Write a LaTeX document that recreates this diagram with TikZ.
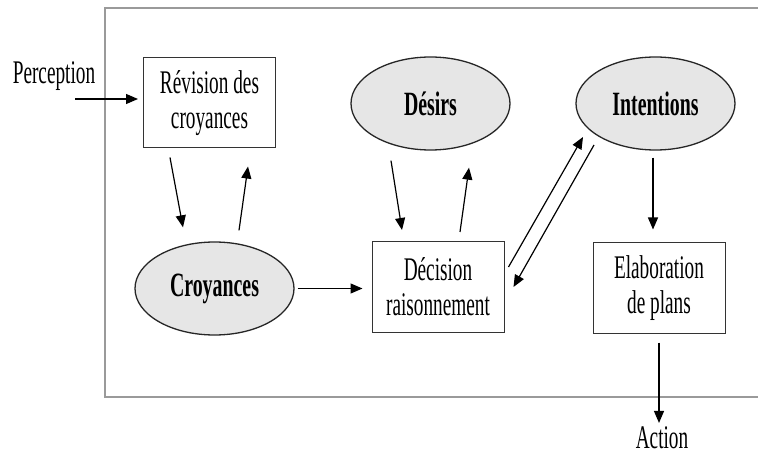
\documentclass[tikz,border=0pt]{standalone}
\usepackage{fontspec}
\setmainfont{Liberation Serif}[FakeStretch=0.584]
\usetikzlibrary{shapes.geometric,arrows.meta,calc}
\definecolor{framegray}{HTML}{9A9A9A}
\definecolor{ellfill}{HTML}{E6E6E6}
\definecolor{boxline}{HTML}{333333}
\tikzset{
  boxnode/.style={draw=boxline,line width=1pt,rectangle,minimum width=132pt,minimum height=90pt,align=center,inner sep=0pt,font=\fontsize{33}{35}\selectfont},
  ellnode/.style={draw=black!85,line width=1.3pt,ellipse,fill=ellfill,minimum width=159pt,minimum height=93pt,inner sep=0pt,font=\fontsize{34}{36}\selectfont\bfseries},
  plain/.style={inner sep=0pt,text depth=0pt,font=\fontsize{33}{35}\selectfont},
  arr/.style={line width=1.2pt,-{Triangle[length=12pt,width=10pt]}},
}
\begin{document}
\begin{tikzpicture}[x=1pt,y=-1pt]
\useasboundingbox (0,0) rectangle (758,457);
% frame
\draw[framegray,line width=1.8pt] (760,8) -- (105,8) -- (105,397) -- (760,397);
% nodes
\node[boxnode] (rev) at (209.5,103) {Révision des\\croyances};
\node[boxnode] (dec) at (438,287) {Décision\\raisonnement};
\node[boxnode] (elab) at (659,288) {Elaboration\\de plans};
\node[ellnode] (cro) at (214.5,288.5) {Croyances};
\node[ellnode] (des) at (430.5,103.5) {Désirs};
\node[ellnode] (int) at (655.5,103.5) {Intentions};
\node[plain,anchor=base] (perc) at (54,83.5) {Perception};
\node[plain,anchor=base] (act) at (662,448) {Action};
\coordinate (pin) at (75,99);
% connectors
\draw[arr] (pin) -- ([xshift=-5pt,yshift=4pt]rev.west);
\draw[arr] ([xshift=-39.5pt,yshift=-9pt]rev.south) -- ([xshift=-31.5pt,yshift=14pt]cro.north);
\draw[arr] ([xshift=24.5pt,yshift=11pt]cro.north) -- ([xshift=38.5pt,yshift=-18pt]rev.south);
\draw[arr] ([xshift=3pt]cro.east) -- ([xshift=-9pt,yshift=-1.5pt]dec.west);
\draw[arr] ([xshift=-39.5pt,yshift=-10pt]des.south) -- ([xshift=-36pt,yshift=11.5pt]dec.north);
\draw[arr] ([xshift=22pt,yshift=9.5pt]dec.north) -- ([xshift=38.5pt,yshift=-17pt]des.south);
\draw[arr] ([xshift=4pt,yshift=20pt]dec.east) -- ([xshift=-72.5pt,yshift=-33.5pt]int.center);
\draw[arr] ([xshift=-61.5pt,yshift=-41.5pt]int.center) -- ([xshift=9pt]dec.east);
\draw[arr] ([xshift=-2.5pt,yshift=-7pt]int.south) -- ([xshift=-6pt,yshift=13pt]elab.north);
\draw[arr] ([yshift=-9pt]elab.south) -- ([xshift=-3pt,yshift=3pt]act.north);
\end{tikzpicture}
\end{document}
